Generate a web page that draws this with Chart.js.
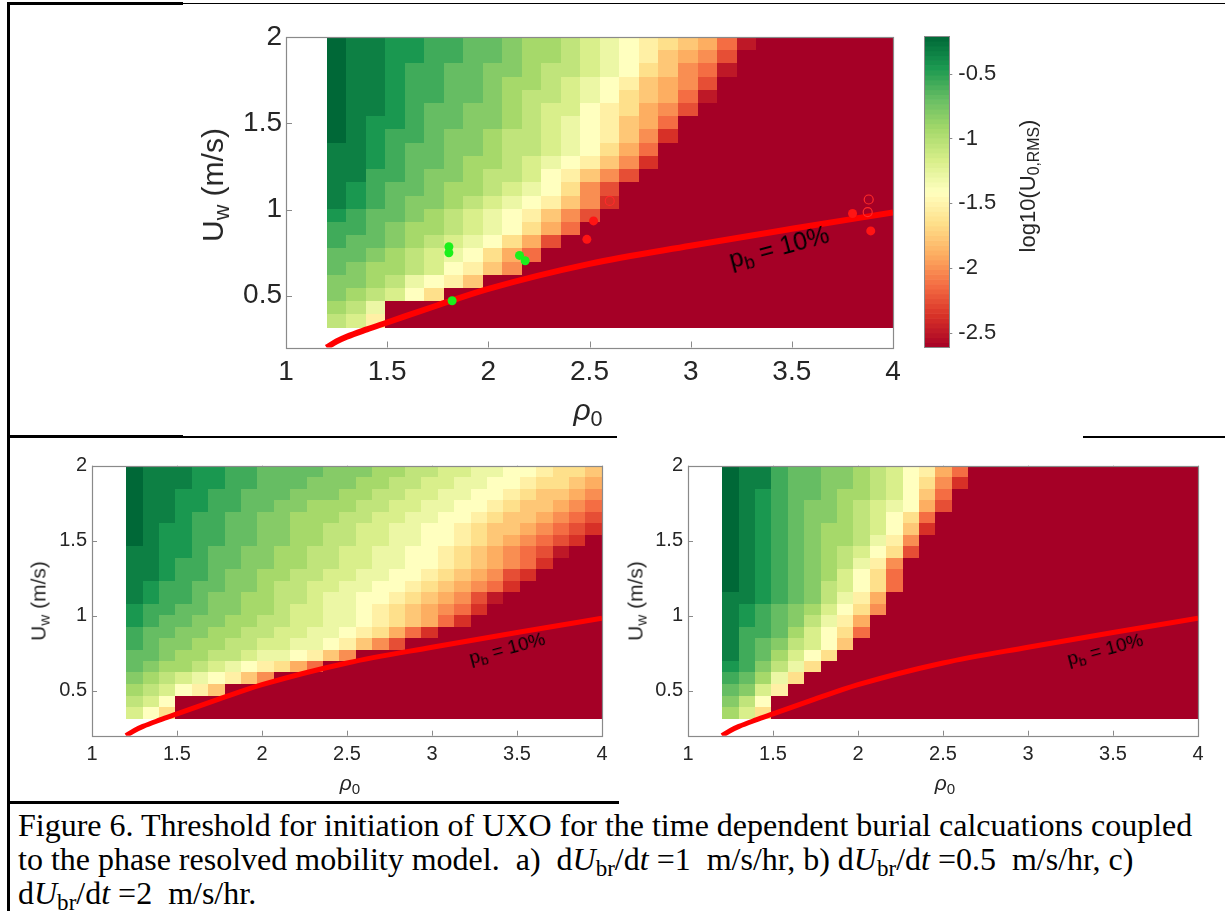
<!DOCTYPE html>
<html>
<head>
<meta charset="utf-8">
<script src="https://cdn.jsdelivr.net/npm/chart.js@4.4.1/dist/chart.umd.min.js"></script>
<style>
  body { margin: 0; width: 1225px; height: 911px; position: relative; overflow: hidden; background: #fff;
         font-family: "Liberation Sans", Arial, sans-serif; color: #262626; }
  canvas { position: absolute; }
  .ln { position: absolute; background: #000; }
  .lbl { position: absolute; white-space: nowrap; line-height: 1; transform: translate(-50%, -50%); }
  .rot { transform: translate(-50%, -50%) rotate(-90deg); }
  .pb { color: #000; transform: translate(-50%, -50%) rotate(-15deg); }
  sub { font-size: 72%; vertical-align: -0.28em; line-height: 0; }
  .cap { position: absolute; left: 18px; top: 808px; font-family: "Liberation Serif", "Times New Roman", serif;
         font-size: 32px; line-height: 34px; color: #000; white-space: nowrap; }
</style>
</head>
<body>

<div class="ln" style="left:7px;top:2px;width:3px;height:909px"></div>
<div class="ln" style="left:7px;top:2px;width:176px;height:3px"></div>
<div class="ln" style="left:183px;top:3px;width:1042px;height:1px"></div>
<div class="ln" style="left:7px;top:435px;width:176px;height:3px"></div>
<div class="ln" style="left:183px;top:436px;width:434px;height:1.5px"></div>
<div class="ln" style="left:1083px;top:436px;width:142px;height:1.5px"></div>
<div class="ln" style="left:7px;top:801px;width:612px;height:3px"></div>

<canvas id="panelA" width="720" height="387" style="left:190px;top:13px"></canvas>
<canvas id="cbar" width="110" height="360" style="left:900px;top:12px"></canvas>
<canvas id="panelB" width="620" height="355" style="left:0px;top:440px"></canvas>
<canvas id="panelC" width="620" height="355" style="left:600px;top:440px"></canvas>

<div class="lbl rot" style="left:213px;top:185px;font-size:30px">U<sub>w</sub> (m/s)</div>
<div class="lbl" style="left:588px;top:410px;font-size:30px"><i>ρ</i><sub>0</sub></div>
<div class="lbl rot" style="left:1028px;top:186px;font-size:22px">log10(U<sub>0,RMS</sub>)</div>
<div class="lbl pb" style="left:779px;top:247px;font-size:25px">p<sub>b</sub> = 10%</div>

<div class="lbl rot" style="left:38px;top:601px;font-size:21px">U<sub>w</sub> (m/s)</div>
<div class="lbl" style="left:350px;top:782px;font-size:21px"><i>ρ</i><sub>0</sub></div>
<div class="lbl pb" style="left:507px;top:648px;font-size:19px">p<sub>b</sub> = 10%</div>

<div class="lbl rot" style="left:635px;top:601px;font-size:21px">U<sub>w</sub> (m/s)</div>
<div class="lbl" style="left:945px;top:782px;font-size:21px"><i>ρ</i><sub>0</sub></div>
<div class="lbl pb" style="left:1105px;top:649px;font-size:19px">p<sub>b</sub> = 10%</div>

<div class="cap">Figure 6. Threshold for initiation of UXO for the time dependent burial calcuations coupled<br>to the phase resolved mobility model.&nbsp; a)&nbsp; d<i>U</i><sub>br</sub>/d<i>t</i> =1&nbsp; m/s/hr, b) d<i>U</i><sub>br</sub>/d<i>t</i> =0.5&nbsp; m/s/hr, c)<br>d<i>U</i><sub>br</sub>/d<i>t</i> =2&nbsp; m/s/hr.</div>

<script>
/* Figure 6 - UXO burial threshold maps, log10(U0,RMS) over (rho0, Uw) */

// grid: cell centres
const rho = [1.25, 1.346, 1.443, 1.539, 1.636, 1.732, 1.829, 1.925, 2.021, 2.118, 2.214, 2.311, 2.407, 2.504, 2.6,
             2.696, 2.793, 2.889, 2.986, 3.082, 3.179, 3.275, 3.371, 3.468, 3.564, 3.661, 3.757, 3.854, 3.95];
const uw = [1.962, 1.885, 1.809, 1.732, 1.655, 1.579, 1.502, 1.426, 1.349, 1.272, 1.196, 1.119, 1.043, 0.966,
            0.889, 0.813, 0.736, 0.66, 0.583, 0.506, 0.43, 0.353];   // top row first

// log10(U0,RMS) read per cell as a level code 0..k (base 36): value = -2.61 + 0.12 * level
// each row lists the moving cells left to right; the rest of the row is the no-motion floor (level 0)
const LEVEL_MIN = -2.61;
const LEVEL_STEP = 0.12;

const logU_a = [
  'kjjiihhggfeedcba987641', 'kjjiihhggfeedcba97653', 'kjjihhggffeddcba87541', 'kjjihhggfeedcba97653',
  'kjjihhggfeddcba87641', 'kjjihggffedcca98653', 'kjiihggffedcba9764', 'kjihhgffeddcba9752',
  'jjihggffeddcba864', 'jjihggfeedcba9752', 'jjhhgffeddca9753', 'jihggfeedcba853',
  'jihgffedcba9752', 'ihggfedcba9753', 'hhgfeedcba864', 'hggfedcba863',
  'ggfedcba864', 'gfeedca975', 'ffedba97', 'fedca8', 'edb', 'dc9'
];
const logU_b = [
  'kjjjiihhggggfffeeddccbbaa9887', 'kjjjiihhgggfffeeddccbbaa98876', 'kjjiihhgggfffeeddccbbaa987765',
  'kjjiihhggffeeeddccbbaa9877654', 'kjjihhggffeeeddccbbaa98776543', 'kjiihhggffeeddccbbaa987765432',
  'kjiihhggffeeddccbbaa98765432', 'jjiihggffeeddccbbaa98765431', 'jjihhggffeeddccbbaa9876542',
  'jjihhgffeeddccbbaa9876532', 'jihhggffeddccbbaa9876542', 'jihhgffeeddcbbaa9876531',
  'ihhggffeedccbba9876542', 'ihggffeeddccbba987642', 'hggffeeddccbba98642', 'hgffeeddccbba9753',
  'ggfeeddcbba975', 'gfeedcba9864', 'fedcba975', 'edca97', 'dca', 'ca8'
];
const logU_c = [
  'kjjhggffedca964', 'kjjhggffedca852', 'kjihggfeedca74', 'kjihgffedcba63', 'kjihgffedca84',
  'kjihgfeedca72', 'kjihgfeedb95', 'kjihgfedca83', 'kjihgfedb95', 'kjihgfeca84', 'kjihgfdca84',
  'jjihgfdb96', 'jihgfeca85', 'jihgfdb96', 'jhhgeca84', 'jhgfdca7', 'jhgeca8', 'ihfdb8', 'hgeb8',
  'gfc9', 'fda', 'ec8'
];

// p_b = 10% threshold curve
const curveRho = [1.2, 1.25, 1.3, 1.4, 1.5, 1.75, 2.0, 2.5, 3.0, 3.5, 4.0];
const curveU = [0.2, 0.235, 0.262, 0.305, 0.345, 0.445, 0.54, 0.685, 0.79, 0.888, 0.983];

// observations on panel a
const greenRho = [1.805, 1.805, 2.154, 2.182, 1.821];
const greenU = [0.784, 0.749, 0.734, 0.703, 0.471];
const redRho = [2.52, 2.487, 3.8, 3.89];
const redU = [0.934, 0.827, 0.977, 0.876];
const openRho = [2.6, 3.88, 3.875];
const openU = [1.05, 1.058, 0.985];

const xTicks = [1, 1.5, 2, 2.5, 3, 3.5, 4];
const yTicks = [0.5, 1, 1.5, 2];
const cbTicks = [-2.5, -2, -1.5, -1, -0.5];
const C_MIN = -2.61;
const C_MAX = -0.21;

// RdYlGn, red at the low end
const RDYLGN = ['#a50026', '#d73027', '#f46d43', '#fdae61', '#fee08b', '#ffffbf',
                '#d9ef8b', '#a6d96a', '#66bd63', '#1a9850', '#006837'];
const AXIS_GREY = '#8a8a8a';
const TEXT = '#262626';
const FONT = '"Liberation Sans", Arial, sans-serif';

function hexRgb(h) {
  return [parseInt(h.slice(1, 3), 16), parseInt(h.slice(3, 5), 16), parseInt(h.slice(5, 7), 16)];
}
const cmapRgb = RDYLGN.map(hexRgb);

function colourFor(v) {
  let t = (v - C_MIN) / (C_MAX - C_MIN);
  t = Math.max(0, Math.min(1, t));
  const p = t * (cmapRgb.length - 1);
  const i = Math.min(cmapRgb.length - 2, Math.floor(p));
  const f = p - i;
  const a = cmapRgb[i], b = cmapRgb[i + 1];
  return 'rgb(' + a.map((c, k) => Math.round(c + (b[k] - c) * f)).join(',') + ')';
}

function edges(centres) {
  const e = [centres[0] - (centres[1] - centres[0]) / 2];
  for (let i = 0; i < centres.length - 1; i++) e.push((centres[i] + centres[i + 1]) / 2);
  const n = centres.length;
  e.push(centres[n - 1] + (centres[n - 1] - centres[n - 2]) / 2);
  return e;
}

function decode(rows) {
  return rows.map(r => r.padEnd(rho.length, '0').split('').map(ch => LEVEL_MIN + LEVEL_STEP * parseInt(ch, 36)));
}

function points(xs, ys) {
  return xs.map((x, i) => ({ x: x, y: ys[i] }));
}

function heatmapPlugin(values, tickLen) {
  const xe = edges(rho);
  const ye = edges(uw);
  return {
    id: 'heatmap',
    beforeDatasetsDraw(chart) {
      const { ctx, chartArea: a, scales: { x, y } } = chart;
      ctx.save();
      // inward ticks, under the image
      ctx.strokeStyle = AXIS_GREY;
      ctx.lineWidth = 1;
      ctx.beginPath();
      xTicks.forEach(v => {
        const px = Math.round(x.getPixelForValue(v)) + 0.5;
        ctx.moveTo(px, a.bottom); ctx.lineTo(px, a.bottom - tickLen);
        ctx.moveTo(px, a.top); ctx.lineTo(px, a.top + tickLen);
      });
      yTicks.forEach(v => {
        const py = Math.round(y.getPixelForValue(v)) + 0.5;
        ctx.moveTo(a.left, py); ctx.lineTo(a.left + tickLen, py);
        ctx.moveTo(a.right, py); ctx.lineTo(a.right - tickLen, py);
      });
      ctx.stroke();

      ctx.beginPath();
      ctx.rect(a.left, a.top, a.width, a.height);
      ctx.clip();
      values.forEach((row, r) => {
        const y0 = y.getPixelForValue(ye[r]);
        const y1 = y.getPixelForValue(ye[r + 1]);
        row.forEach((v, c) => {
          const x0 = x.getPixelForValue(xe[c]);
          const x1 = x.getPixelForValue(xe[c + 1]);
          ctx.fillStyle = colourFor(v);
          ctx.fillRect(Math.round(x0), Math.round(y0), Math.round(x1) - Math.round(x0), Math.round(y1) - Math.round(y0));
        });
      });
      ctx.restore();
    },
    afterDatasetsDraw(chart) {
      const { ctx, chartArea: a } = chart;
      ctx.save();
      ctx.strokeStyle = AXIS_GREY;
      ctx.lineWidth = 1.2;
      ctx.strokeRect(Math.round(a.left) + 0.5, Math.round(a.top) + 0.5, Math.round(a.width), Math.round(a.height));
      ctx.restore();
    }
  };
}

function axis(ticks, min, max, fontSize, pad, fit) {
  return {
    type: 'linear', min: min, max: max,
    afterBuildTicks: s => { s.ticks = ticks.map(v => ({ value: v })); },
    afterFit: fit,
    grid: { display: false, drawTicks: false },
    border: { display: false },
    ticks: { font: { family: FONT, size: fontSize }, color: TEXT, padding: pad, maxRotation: 0, autoSkip: false,
             callback: v => String(v) }
  };
}

function renderPanel(id, rows, cfg) {
  const ctx = document.getElementById(id).getContext('2d');
  const datasets = (cfg.marks || []).concat([{
    data: points(curveRho, curveU),
    showLine: true,
    borderColor: '#ff0000',
    borderWidth: cfg.curveWidth,
    pointRadius: 0,
    cubicInterpolationMode: 'monotone'
  }]);
  return new Chart(ctx, {
    type: 'scatter',
    data: { datasets: datasets },
    options: {
      responsive: false,
      animation: false,
      devicePixelRatio: 1,
      events: [],
      layout: { autoPadding: false, padding: cfg.padding },
      plugins: { legend: { display: false }, tooltip: { enabled: false } },
      scales: {
        x: axis(xTicks, 1, 4, cfg.tickFont, cfg.xPad, s => { s.height = cfg.xHeight; }),
        y: axis(yTicks, 0.2, 2, cfg.tickFont, cfg.yPad, s => { s.width = cfg.yWidth; })
      }
    },
    plugins: [heatmapPlugin(decode(rows), cfg.tickLen)]
  });
}

function renderColorbar() {
  const ctx = document.getElementById('cbar').getContext('2d');
  const bands = 64;
  const bar = {
    id: 'colourbar',
    beforeDatasetsDraw(chart) {
      const { ctx, chartArea: a, scales: { y } } = chart;
      ctx.save();
      for (let k = 0; k < bands; k++) {
        const v0 = C_MIN + (C_MAX - C_MIN) * k / bands;
        const v1 = C_MIN + (C_MAX - C_MIN) * (k + 1) / bands;
        const p0 = y.getPixelForValue(v0), p1 = y.getPixelForValue(v1);
        ctx.fillStyle = colourFor((v0 + v1) / 2);
        ctx.fillRect(a.left, p1, a.width, p0 - p1 + 0.6);
      }
      ctx.strokeStyle = AXIS_GREY;
      ctx.lineWidth = 1;
      ctx.strokeRect(Math.round(a.left) + 0.5, Math.round(a.top) + 0.5, Math.round(a.width), Math.round(a.height));
      ctx.beginPath();
      cbTicks.forEach(v => {
        const py = Math.round(y.getPixelForValue(v)) + 0.5;
        ctx.moveTo(a.right, py); ctx.lineTo(a.right + 3, py);
      });
      ctx.stroke();
      ctx.restore();
    }
  };
  return new Chart(ctx, {
    type: 'scatter',
    data: { datasets: [] },
    options: {
      responsive: false,
      animation: false,
      devicePixelRatio: 1,
      events: [],
      layout: { autoPadding: false, padding: { left: 24.3, top: 24, right: 0, bottom: 24.7 } },
      plugins: { legend: { display: false }, tooltip: { enabled: false } },
      scales: {
        x: { display: false, min: 0, max: 1 },
        y: Object.assign(axis(cbTicks, C_MIN, C_MAX, 22, 9, s => { s.width = 60.7; }), { position: 'right' })
      }
    },
    plugins: [bar]
  });
}

renderPanel('panelA', logU_a, {
  padding: { left: 0, top: 24, right: 17, bottom: 0 },
  yWidth: 96, xHeight: 52.5, tickFont: 28, xPad: 8, yPad: 4, tickLen: 6, curveWidth: 6,
  marks: [
    { data: points(greenRho, greenU), pointRadius: 4.5, pointBackgroundColor: '#1bf01b', pointBorderWidth: 0 },
    { data: points(redRho, redU), pointRadius: 4.5, pointBackgroundColor: '#ff1414', pointBorderWidth: 0 },
    { data: points(openRho, openU), pointRadius: 4.5, pointBackgroundColor: 'rgba(0,0,0,0)',
      pointBorderColor: '#ff2a2a', pointBorderWidth: 1.2 }
  ]
});
renderColorbar();
renderPanel('panelB', logU_b, {
  padding: { left: 0, top: 25.7, right: 18, bottom: 0 },
  yWidth: 92, xHeight: 59.3, tickFont: 20, xPad: 7, yPad: 5, tickLen: 5, curveWidth: 5
});
renderPanel('panelC', logU_c, {
  padding: { left: 0, top: 25.7, right: 22, bottom: 0 },
  yWidth: 88, xHeight: 59.3, tickFont: 20, xPad: 7, yPad: 5, tickLen: 5, curveWidth: 5
});
</script>
</body>
</html>
